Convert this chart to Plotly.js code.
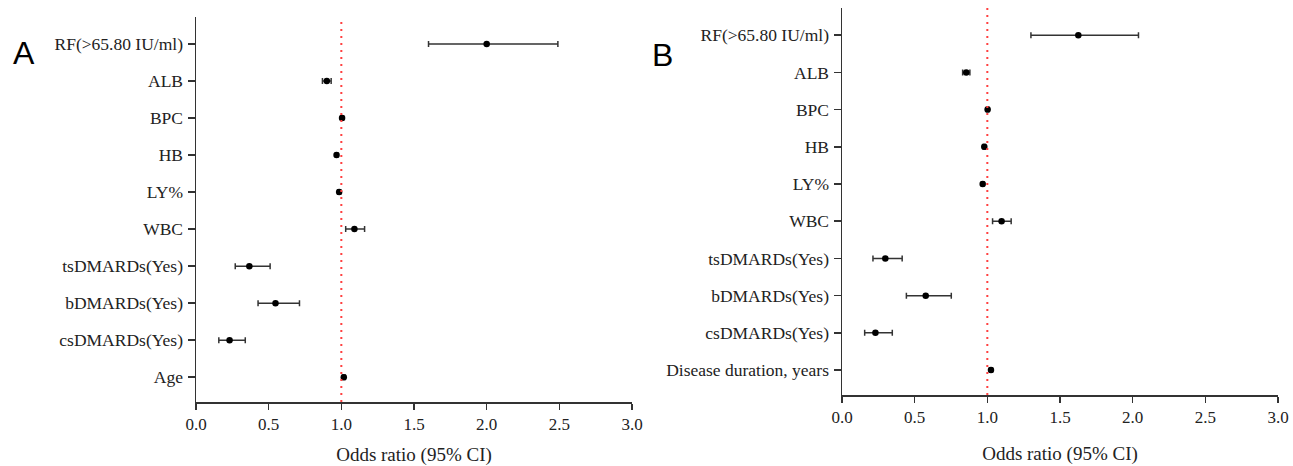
<!DOCTYPE html>
<html>
<head>
<meta charset="utf-8">
<script src="https://cdn.plot.ly/plotly-3.0.1.min.js"></script>
<style>html,body{margin:0;padding:0;background:#fff;}#chart{width:1293px;height:466px;}</style>
</head>
<body>
<div id="chart"></div>
<script>
// Panel A data (top to bottom)
const catsA = ["RF(>65.80 IU/ml)", "ALB", "BPC", "HB", "LY%", "WBC", "tsDMARDs(Yes)", "bDMARDs(Yes)", "csDMARDs(Yes)", "Age"];
const orA   = [2.00, 0.90, 1.005, 0.967, 0.985, 1.09, 0.367, 0.547, 0.231, 1.017];
const lowA  = [1.60, 0.87, 0.995, 0.960, 0.975, 1.03, 0.270, 0.427, 0.157, 1.008];
const highA = [2.49, 0.93, 1.015, 0.975, 0.995, 1.16, 0.510, 0.712, 0.339, 1.026];

// Panel B data (top to bottom)
const catsB = ["RF(>65.80 IU/ml)", "ALB", "BPC", "HB", "LY%", "WBC", "tsDMARDs(Yes)", "bDMARDs(Yes)", "csDMARDs(Yes)", "Disease duration, years"];
const orB   = [1.626, 0.855, 1.002, 0.979, 0.968, 1.098, 0.298, 0.576, 0.230, 1.025];
const lowB  = [1.30, 0.830, 0.994, 0.971, 0.960, 1.036, 0.213, 0.443, 0.156, 1.015];
const highB = [2.04, 0.880, 1.010, 0.987, 0.976, 1.164, 0.414, 0.752, 0.346, 1.035];

const xTicks = [0, 0.5, 1.0, 1.5, 2.0, 2.5, 3.0];
const refLine = 1.0;

function mk(cats, or, lo, hi, xa, ya) {
  return {
    type: 'scatter', mode: 'markers', x: or, y: cats, xaxis: xa, yaxis: ya,
    marker: {color: '#000', size: 6.5, symbol: 'circle'},
    error_x: {type: 'data', symmetric: false,
      array: or.map((v, i) => hi[i] - v),
      arrayminus: or.map((v, i) => v - lo[i]),
      color: '#333', thickness: 1.5, width: 3},
    showlegend: false, hoverinfo: 'x+y'
  };
}

const serif = 'Liberation Serif, Times New Roman, serif';
const tickFont = {family: serif, size: 17.5, color: '#222'};
const xTickFont = {family: serif, size: 17, color: '#222'};

function xaxis(domain, anchor, standoff) {
  return {
    domain: domain, anchor: anchor, range: [0, 3], tickvals: xTicks,
    ticktext: xTicks.map(v => v.toFixed(1)),
    showline: true, linecolor: '#333', linewidth: 1.5, ticks: 'outside', ticklen: 6,
    tickcolor: '#333', tickwidth: 1.5, showgrid: false, zeroline: false,
    tickfont: xTickFont, automargin: false,
    title: {text: 'Odds ratio (95% CI)', font: {family: serif, size: 19, color: '#222'}, standoff: standoff}
  };
}
function yaxis(domain, anchor, cats) {
  return {
    domain: domain, anchor: anchor, type: 'category', categoryorder: 'array',
    categoryarray: cats.slice().reverse(), range: [-0.67, 9.73],
    showline: true, linecolor: '#333', linewidth: 1.5, ticks: 'outside', ticklen: 7,
    tickcolor: '#333', tickwidth: 1.5, showgrid: false, zeroline: false,
    tickfont: tickFont, automargin: false, ticklabelstandoff: 1
  };
}

const W = 1293, H = 466;
const layout = {
  width: W, height: H, margin: {l: 0, r: 0, t: 0, b: 0},
  paper_bgcolor: '#fff', plot_bgcolor: '#fff',
  xaxis: xaxis([196 / W, 632 / W], 'y', 25),
  yaxis: yaxis([1 - 402 / H, 1 - 17 / H], 'x', catsA),
  xaxis2: xaxis([842 / W, 1278 / W], 'y2', 21),
  yaxis2: yaxis([1 - 395 / H, 1 - 8 / H], 'x2', catsB),
  shapes: [
    {type: 'line', xref: 'x', yref: 'y domain', x0: refLine, x1: refLine, y0: 0, y1: 1,
     line: {color: '#ff4040', width: 2, dash: '2px,5px'}},
    {type: 'line', xref: 'x2', yref: 'y2 domain', x0: refLine, x1: refLine, y0: 0, y1: 1,
     line: {color: '#ff4040', width: 2, dash: '2px,5px'}}
  ],
  annotations: [
    {text: 'A', xref: 'paper', yref: 'paper', x: 24 / W, y: 1 - 53 / H, showarrow: false,
     xanchor: 'center', yanchor: 'middle', font: {family: 'Liberation Sans, Arial, sans-serif', size: 32, color: '#000'}},
    {text: 'B', xref: 'paper', yref: 'paper', x: 662 / W, y: 1 - 55 / H, showarrow: false,
     xanchor: 'center', yanchor: 'middle', font: {family: 'Liberation Sans, Arial, sans-serif', size: 32, color: '#000'}}
  ]
};

Plotly.newPlot('chart', [mk(catsA, orA, lowA, highA, 'x', 'y'), mk(catsB, orB, lowB, highB, 'x2', 'y2')], layout, {staticPlot: true});
</script>
</body>
</html>
